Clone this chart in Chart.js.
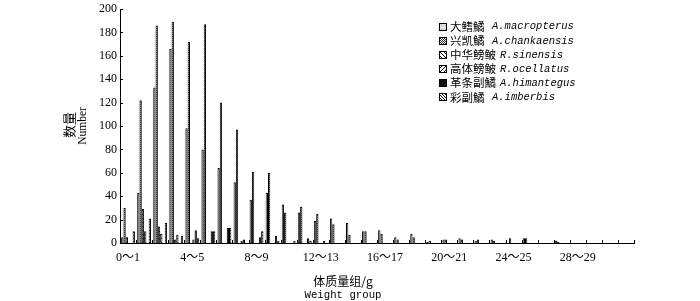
<!DOCTYPE html>
<html><head><meta charset="utf-8">
<script src="https://cdn.jsdelivr.net/npm/chart.js@4"></script>
<style>html,body{margin:0;padding:0;background:#fff;}#wrap{width:700px;height:301px;position:relative;}</style>
</head><body><div id="wrap"><canvas id="c"></canvas></div>
<script>
const categories = ['0～1','1～2','2～3','3～4','4～5','5～6','6～7','7～8','8～9','9～10','10～11','11～12','12～13','13～14','14～15','15～16','16～17','17～18','18～19','19～20','20～21','21～22','22～23','23～24','24～25','25～26','26～27','27～28','28～29','29～30','30～31','31～32'];
const shownLabels = ['0～1','4～5','8～9','12～13','16～17','20～21','24～25','28～29'];
const seriesCn = ['大鳍鱊','兴凯鱊','中华鳑鲏','高体鳑鲏','革条副鱊','彩副鱊'];
const seriesLatin = ['A.macropterus','A.chankaensis','R.sinensis','R.ocellatus','A.himantegus','A.imberbis'];
const macropterus = [5,43,133,166,98,80,64,52,37,43,33,26,19,21,17,10,11,5,8,1,3,4,2,3,0,4,0,2,0,0,0,0];
const chankaensis = [30,122,186,189,172,187,120,97,61,60,26,31,25,16,7,10,8,3,5,2,3,3,3,2,4,4,0,1,0,0,0,0];
const sinensis    = [5,29,14,3,0,0,0,0,0,0,0,0,0,0,0,0,0,0,0,0,0,0,0,0,0,0,0,0,0,0,0,0];
const ocellatus   = [0,10,8,7,3,0,0,2,0,0,0,0,0,0,0,0,0,0,0,0,0,0,0,0,0,0,0,0,0,0,0,0];
const himantegus  = [0,0,0,0,11,10,13,3,5,6,0,4,2,0,0,0,0,0,0,0,0,0,0,0,0,0,0,0,0,0,0,0];
const imberbis    = [10,21,17,6,4,10,13,0,10,2,2,2,0,0,0,0,0,0,0,0,0,0,0,0,0,0,0,0,0,0,0,0];
const yTickValues = [0,20,40,60,80,100,120,140,160,180,200];

function makePattern(size, draw){
  const c=document.createElement('canvas'); c.width=c.height=size;
  const g=c.getContext('2d'); draw(g,size); return g.createPattern(c,'repeat');
}
const patterns = [
  makePattern(4,(g,s)=>{g.fillStyle='#e4e4e4';g.fillRect(0,0,s,s);g.fillStyle='#999';g.fillRect(1,1,1,1);}),
  makePattern(2,(g,s)=>{g.fillStyle='#fff';g.fillRect(0,0,s,s);g.fillStyle='#222';g.fillRect(0,0,1,1);g.fillRect(1,1,1,1);}),
  makePattern(4,(g,s)=>{g.fillStyle='#fff';g.fillRect(0,0,s,s);g.fillStyle='#000';for(let i=0;i<s;i++)g.fillRect(i,i,1,1);}),
  makePattern(4,(g,s)=>{g.fillStyle='#fff';g.fillRect(0,0,s,s);g.fillStyle='#000';for(let i=0;i<s;i++)g.fillRect(s-1-i,i,1,1);}),
  makePattern(2,(g,s)=>{g.fillStyle='#111';g.fillRect(0,0,s,s);}),
  makePattern(3,(g,s)=>{g.fillStyle='#fff';g.fillRect(0,0,s,s);g.fillStyle='#000';for(let i=0;i<s;i++)g.fillRect(i,i,1,1);})
];
const seriesData = [macropterus,chankaensis,sinensis,ocellatus,himantegus,imberbis];

const decor = {
  id:'decor',
  afterDraw(chart){
    const {ctx, chartArea:a, scales:{x,y}} = chart;
    ctx.save();
    ctx.strokeStyle='#000'; ctx.lineWidth=1;
    yTickValues.forEach(v=>{
      const py=Math.round(y.getPixelForValue(v))+0.5;
      ctx.beginPath(); ctx.moveTo(a.left,py); ctx.lineTo(a.left+3,py); ctx.stroke();
    });
    for(let i=1;i<=categories.length;i++){
      const px=Math.round(x.getPixelForValue(i-0.5))+0.5;
      ctx.beginPath(); ctx.moveTo(px,a.bottom); ctx.lineTo(px,a.bottom-3); ctx.stroke();
    }
    ctx.fillStyle='#000';
    ctx.save();
    ctx.translate(69,125); ctx.rotate(-Math.PI/2);
    ctx.textAlign='center'; ctx.textBaseline='middle';
    ctx.font='13px "Noto Sans CJK SC"';
    ctx.fillText('数量',0,0);
    ctx.restore();
    ctx.save();
    ctx.translate(83,126); ctx.rotate(-Math.PI/2);
    ctx.textAlign='center'; ctx.textBaseline='middle';
    ctx.font='11.5px "Liberation Serif"';
    ctx.fillText('Number',0,0);
    ctx.restore();
    ctx.textAlign='center'; ctx.textBaseline='middle';
    ctx.font='12px "Noto Sans CJK SC"';
    ctx.fillText('体质量组/g',343,281);
    ctx.font='10.7px "Liberation Mono"';
    ctx.fillText('Weight group',343,295);
    ctx.textAlign='left';
    for(let i=0;i<seriesCn.length;i++){
      const cy=26.7+i*14.1;
      ctx.fillStyle=patterns[i];
      ctx.fillRect(439.5,Math.round(cy)-3.5,7,7);
      ctx.strokeRect(439.5,Math.round(cy)-3.5,7,7);
      ctx.fillStyle='#000';
      ctx.font='11.5px "Noto Sans CJK SC"';
      const w=ctx.measureText(seriesCn[i]).width;
      ctx.fillText(seriesCn[i],450,cy);
      ctx.font='italic 10.5px "Liberation Mono"';
      ctx.fillText(seriesLatin[i],Math.max(450+w+4,492),cy);
    }
    ctx.restore();
  }
};

new Chart(document.getElementById('c'),{
  type:'bar',
  data:{
    labels:categories,
    datasets:seriesData.map((d,i)=>({
      label:seriesCn[i]+' '+seriesLatin[i],
      data:d,
      backgroundColor:patterns[i],
      borderColor:'#000',
      borderWidth:1,
      categoryPercentage:0.86,
      barPercentage:1.0
    }))
  },
  options:{
    responsive:true, maintainAspectRatio:false, animation:false, devicePixelRatio:1,
    layout:{padding:{top:0,right:66,left:0,bottom:0}},
    plugins:{legend:{display:false},tooltip:{enabled:false}},
    scales:{
      x:{
        type:'category', offset:true,
        grid:{display:false,drawTicks:false},
        border:{display:true,color:'#000',width:1},
        ticks:{autoSkip:false,maxRotation:0,minRotation:0,padding:8,color:'#000',
          font:{family:'"Liberation Serif","Noto Sans CJK SC"',size:12},
          callback:(v,i)=>shownLabels.includes(categories[i])?categories[i]:''},
        afterFit:s=>{s.height=58;}
      },
      y:{
        min:0,max:200,
        grid:{display:false,drawTicks:false},
        border:{display:true,color:'#000',width:1},
        ticks:{stepSize:20,padding:3,color:'#000',font:{family:'"Liberation Serif"',size:12,lineHeight:1}},
        afterFit:s=>{s.width=120;}
      }
    }
  },
  plugins:[decor]
});
</script></body></html>
